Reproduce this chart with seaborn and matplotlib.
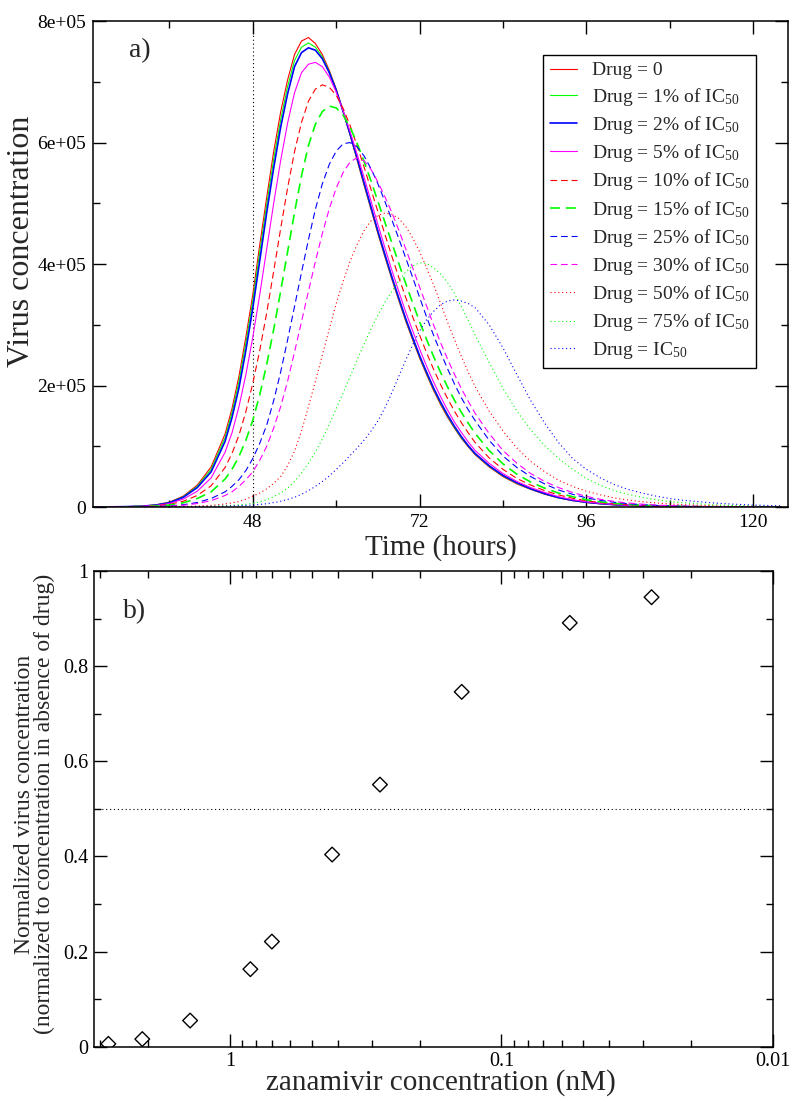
import numpy as np
import pandas as pd
import seaborn as sns
import matplotlib
matplotlib.use('Agg')
import matplotlib.pyplot as plt
from matplotlib.ticker import MultipleLocator, FixedLocator, LogLocator, NullFormatter, FuncFormatter

# time grid (hours) shared by all curves: 2 h steps on the tails, 1 h steps around the peaks
hours = list(range(24, 45, 2)) + list(range(45, 81)) + list(range(82, 125, 2))

# virus concentration, in thousands (early 24-44, mid 45-80, late 82-124)
drug_0 = [0.1, 0.2, 0.4, 0.8, 1.6, 3.5, 8, 18, 36, 66, 120,
          162, 215, 280, 350, 432, 510, 585, 650, 703, 745, 767, 773, 763, 745, 719, 688, 651, 612,
          571, 530, 490, 450, 412, 375, 340, 306, 275, 245, 218, 192, 169, 148, 130, 113, 99, 86,
          66, 50, 38, 29, 21, 15, 10.5, 7.5, 5.3, 3.7, 2.6, 1.8, 1.2, 0.8, 0.5, 0.35, 0.2, 0.15,
          0.1, 0.05, 0.03, 0.02]
drug_1 = [0.1, 0.2, 0.4, 0.8, 1.5, 3.3, 7.5, 17, 34, 62, 114,
          155, 206, 270, 340, 420, 498, 572, 637, 692, 735, 757, 764, 757, 741, 717, 687, 651, 613,
          573, 532, 492, 452, 414, 377, 342, 308, 277, 247, 220, 194, 171, 150, 131, 114, 100, 87,
          67, 51, 39, 29.5, 21.5, 15.3, 10.8, 7.7, 5.5, 3.8, 2.7, 1.9, 1.3, 0.85, 0.55, 0.37, 0.22,
          0.16, 0.1, 0.06, 0.04, 0.02]
drug_2 = [0.1, 0.2, 0.4, 0.7, 1.4, 3.1, 7, 16, 32, 58, 108,
          147, 196, 258, 328, 406, 485, 558, 625, 680, 725, 748, 756, 752, 738, 715, 686, 651, 614,
          575, 534, 494, 454, 416, 379, 344, 310, 279, 249, 222, 196, 173, 152, 133, 116, 101, 88,
          68, 52, 40, 30, 22, 15.6, 11, 7.9, 5.6, 3.9, 2.8, 1.9, 1.3, 0.9, 0.6, 0.38, 0.23, 0.16,
          0.1, 0.06, 0.04, 0.02]
drug_5 = [0.1, 0.15, 0.3, 0.6, 1.2, 2.6, 5.8, 13, 26, 48, 90,
          122, 165, 218, 280, 350, 425, 500, 570, 632, 682, 715, 729, 732, 725, 708, 683, 652, 618,
          581, 543, 504, 465, 427, 390, 355, 321, 290, 260, 232, 206, 182, 160, 140, 123, 107, 93,
          72, 55, 42, 32, 24, 17, 12, 8.5, 6, 4.2, 2.9, 2, 1.4, 0.9, 0.6, 0.4, 0.25, 0.17,
          0.1, 0.07, 0.05, 0.03]
drug_10 = [0.08, 0.13, 0.25, 0.5, 0.9, 2, 4.3, 9.5, 19, 35, 65,
           88, 118, 157, 204, 258, 320, 388, 458, 525, 585, 633, 668, 688, 695, 691, 678, 656, 628,
           595, 560, 523, 486, 449, 413, 378, 345, 313, 283, 254, 227, 202, 179, 158, 139, 122, 106,
           81, 62, 47, 36, 27, 20, 14.5, 10.3, 7.3, 5.1, 3.6, 2.5, 1.7, 1.2, 0.8, 0.55, 0.35, 0.24,
           0.16, 0.1, 0.07, 0.05]
drug_15 = [0.06, 0.1, 0.2, 0.4, 0.7, 1.5, 3.2, 7, 14, 25, 46,
           62, 83, 110, 143, 185, 235, 292, 355, 420, 485, 545, 595, 630, 651, 660, 657, 645, 625,
           599, 569, 537, 503, 469, 435, 401, 368, 336, 305, 276, 248, 222, 198, 176, 156, 138, 121,
           93, 71, 54, 41, 31, 23, 17, 12, 8.6, 6.1, 4.3, 3, 2.1, 1.4, 1, 0.65, 0.45, 0.3,
           0.2, 0.13, 0.09, 0.06]
drug_25 = [0.04, 0.07, 0.13, 0.25, 0.45, 0.9, 1.8, 3.8, 7.5, 14, 25,
           34, 45, 60, 80, 105, 135, 175, 222, 275, 330, 386, 440, 490, 532, 564, 586, 598, 600,
           593, 578, 557, 532, 503, 473, 442, 410, 378, 345, 313, 283, 255, 228, 203, 180, 160, 142,
           110, 84, 65, 50, 38, 28, 21, 15, 11, 7.8, 5.5, 3.9, 2.7, 1.9, 1.3, 0.9, 0.6, 0.4,
           0.28, 0.19, 0.13, 0.09]
drug_30 = [0.03, 0.06, 0.1, 0.2, 0.35, 0.7, 1.4, 2.9, 5.7, 10.5, 19,
           25, 34, 45, 58, 77, 100, 130, 165, 207, 255, 305, 355, 404, 450, 491, 525, 551, 568,
           575, 570, 556, 535, 511, 485, 456, 425, 394, 362, 331, 300, 271, 244, 219, 195, 174, 154,
           121, 93, 72, 55, 42, 32, 24, 17.5, 12.8, 9.2, 6.6, 4.7, 3.3, 2.3, 1.6, 1.1, 0.75, 0.5,
           0.35, 0.24, 0.16, 0.11]
drug_50 = [0.01, 0.02, 0.04, 0.07, 0.12, 0.22, 0.4, 0.8, 1.5, 2.8, 5,
           6.8, 9, 13, 18, 23, 30, 39, 50, 68, 92, 125, 165, 207, 250, 293, 335, 372, 405,
           432, 455, 471, 480, 484, 482, 475, 462, 443, 420, 394, 366, 336, 305, 276, 248, 222, 198,
           158, 125, 97, 75, 58, 44, 34, 26, 20, 15, 11.5, 8.8, 6.7, 5.1, 3.9, 3, 2.2, 1.7,
           1.3, 1, 0.75, 0.55]
drug_75 = [0, 0.01, 0.02, 0.04, 0.07, 0.12, 0.2, 0.4, 0.7, 1.2, 2,
           2.7, 3.5, 4.6, 6, 8.5, 12, 17, 23, 31, 42, 56, 72, 91, 112, 136, 162, 188, 215,
           242, 268, 293, 316, 337, 355, 372, 387, 397, 402, 401, 394, 384, 370, 352, 330, 307, 283,
           238, 195, 158, 127, 101, 80, 62, 47, 36, 27, 21, 16, 12, 9, 7, 5.5, 4, 3,
           2.2, 1.6, 1.2, 0.9]
drug_100 = [0, 0.01, 0.02, 0.04, 0.07, 0.12, 0.2, 0.35, 0.6, 1, 1.5,
            1.8, 2.2, 2.7, 3.2, 4.2, 5.5, 7.3, 9.5, 12.5, 16, 21, 27, 34, 42, 51, 62, 73, 85,
            97, 110, 125, 142, 163, 188, 215, 242, 267, 290, 308, 322, 333, 339, 341, 339, 335, 328,
            300, 262, 218, 175, 138, 106, 80, 62, 48, 37, 29, 23, 18, 14, 11, 9, 7, 5.5,
            4.3, 3.3, 2.6, 2]

labels = ['Drug = 0', 'Drug = 1% of IC$_{50}$', 'Drug = 2% of IC$_{50}$', 'Drug = 5% of IC$_{50}$',
          'Drug = 10% of IC$_{50}$', 'Drug = 15% of IC$_{50}$', 'Drug = 25% of IC$_{50}$',
          'Drug = 30% of IC$_{50}$', 'Drug = 50% of IC$_{50}$', 'Drug = 75% of IC$_{50}$',
          'Drug = IC$_{50}$']
curves = [drug_0, drug_1, drug_2, drug_5, drug_10, drug_15, drug_25, drug_30, drug_50, drug_75, drug_100]

# panel b: zanamivir concentration (nM) vs normalized virus concentration
zanamivir = [2.8, 2.1, 1.4, 0.84, 0.7, 0.42, 0.28, 0.14, 0.056, 0.028]
normalized = [0.006, 0.016, 0.055, 0.163, 0.221, 0.404, 0.551, 0.746, 0.891, 0.945]

colors = ['#ff0000', '#00ff00', '#0000ff', '#ff00ff'] * 2 + ['#ff0000', '#00ff00', '#0000ff']
solid = '-'
dashed = (0, (6, 3.5))
dotted = (0, (1, 2.5))
styles = [solid] * 4 + [dashed] * 4 + [dotted] * 3
widths = [0.8, 0.8, 1.2, 0.8, 0.8, 1.2, 0.8, 0.8, 0.8, 0.8, 0.8]

sns.set_theme(style='ticks')
plt.rcParams['font.family'] = ['Liberation Serif', 'DejaVu Serif']
plt.rcParams['mathtext.fontset'] = 'custom'
plt.rcParams['mathtext.rm'] = 'Liberation Serif'
plt.rcParams['mathtext.it'] = 'Liberation Serif:italic'
plt.rcParams['axes.linewidth'] = 1.1
plt.rcParams['axes.edgecolor'] = 'black'

fig = plt.figure(figsize=(7.92, 10.97), dpi=100)
ax1 = fig.add_axes([0.1174, 0.5378, 0.8775, 0.4430])
ax2 = fig.add_axes([0.1187, 0.04585, 0.8573, 0.4336])

# ---- panel a
ax1.axvline(48, color='black', lw=0.8, linestyle=dotted, zorder=1)
for lab, vals, c, ls, lw in zip(labels, curves, colors, styles, widths):
    df = pd.DataFrame({'time': hours, 'virus': np.array(vals) * 1e3})
    sns.lineplot(data=df, x='time', y='virus', color=c, linestyle=ls, linewidth=lw,
                 label=lab, ax=ax1, estimator=None, sort=False)

ax1.set_xlim(25, 125)
ax1.set_ylim(0, 8e5)
ax1.xaxis.set_major_locator(MultipleLocator(24))
ax1.xaxis.set_minor_locator(MultipleLocator(12))
ax1.yaxis.set_major_locator(MultipleLocator(2e5))
ax1.yaxis.set_minor_locator(MultipleLocator(1e5))
ax1.yaxis.set_major_formatter(FuncFormatter(lambda v, p: '0' if v == 0 else '%.0e' % v))
ax1.tick_params(which='both', direction='in', top=True, right=True, width=1, colors='black')
ax1.tick_params(which='major', length=9.4, labelsize=14, pad=5)
ax1.tick_params(which='minor', length=5)
ax1.set_xlabel('Time (hours)', fontsize=21)
ax1.set_ylabel('Virus concentration', fontsize=23)
ax1.xaxis.set_label_coords(0.5, -0.056)
ax1.yaxis.set_label_coords(-0.082, 0.547)
ax1.text(0.052, 0.94, 'a)', transform=ax1.transAxes, fontsize=20, va='center', ha='left')

leg = ax1.legend(loc='upper right', bbox_to_anchor=(0.954, 0.93), fontsize=14, frameon=True,
                 fancybox=False, edgecolor='black', framealpha=1, handlelength=1.4,
                 handletextpad=0.75, labelspacing=0.32, borderpad=0.35, borderaxespad=0)
leg.get_frame().set_linewidth(1.0)

# ---- panel b
ax2.axhline(0.5, color='black', lw=0.8, linestyle=dotted, zorder=1)
sns.scatterplot(x=zanamivir, y=normalized, marker='D', s=56, facecolor='none',
                edgecolor='black', linewidth=1, ax=ax2, zorder=3)
ax2.set_xscale('log')
ax2.set_xlim(10 ** 0.5, 0.01)
ax2.set_ylim(0, 1)
ax2.xaxis.set_major_locator(FixedLocator([1, 0.1, 0.01]))
ax2.xaxis.set_major_formatter(FuncFormatter(lambda v, p: '%g' % v))
ax2.xaxis.set_minor_locator(LogLocator(base=10, subs=np.arange(2, 10)))
ax2.xaxis.set_minor_formatter(NullFormatter())
ax2.yaxis.set_major_locator(MultipleLocator(0.2))
ax2.yaxis.set_minor_locator(MultipleLocator(0.1))
ax2.yaxis.set_major_formatter(FuncFormatter(lambda v, p: '%g' % v))
ax2.tick_params(which='both', direction='in', top=True, right=True, width=1, colors='black')
ax2.tick_params(which='major', length=9.4, labelsize=14.5, pad=4)
ax2.tick_params(which='minor', length=5)
ax2.set_xlabel('zanamivir concentration (nM)', fontsize=21)
ax2.set_ylabel('Normalized virus concentration\n(normalized to concentration in absence of drug)',
               fontsize=17, linespacing=0.95)
ax2.xaxis.set_label_coords(0.511, -0.048)
ax2.yaxis.set_label_coords(-0.0574, 0.51)
ax2.text(0.043, 0.914, 'b)', transform=ax2.transAxes, fontsize=20, va='center', ha='left')

fig.savefig('out.png', dpi=100)
